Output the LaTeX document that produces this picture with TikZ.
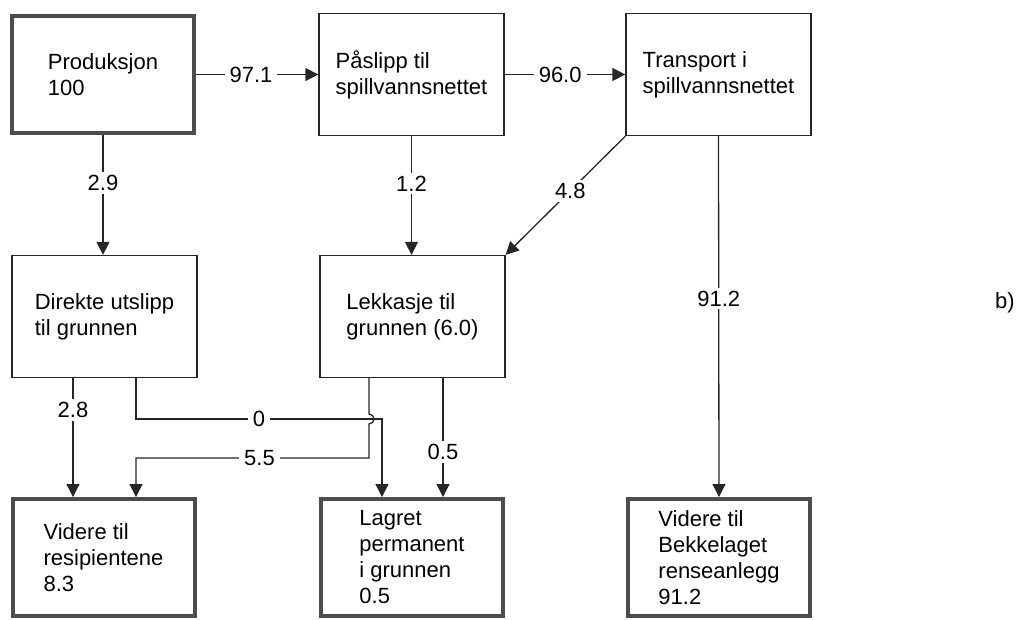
\documentclass[tikz,border=0pt]{standalone}
\usepackage{fontspec}
\setmainfont{Liberation Sans}
\usetikzlibrary{arrows.meta}

\begin{document}
\begin{tikzpicture}[x=1pt,y=-1pt,
    every node/.style={font=\fontsize{22}{26}\selectfont},
    box/.style={draw=black!85, line width=1.3pt, minimum width=185pt, minimum height=122pt, align=left, inner sep=0pt},
    sink/.style={box, draw=black!70, line width=4pt, minimum width=182pt, minimum height=117pt},
    flow/.style={draw=black!85, line width=1.3pt, -{Triangle[length=13pt,width=13pt]}},
    lbl/.style={fill=white, inner xsep=5pt, inner ysep=3pt}]
        \useasboundingbox (0,0) rectangle (1026,619);
        % boxes
        \node[sink] (prod) at (103,74.5) {Produksjon\\100};
        \node[box] (paa) at (411.5,74.5) {Påslipp til\\spillvannsnettet};
        \node[box] (trans) at (718.5,74.5) {Transport i\\spillvannsnettet};
        \node[box] (direkte) at (104.5,316.5) {Direkte utslipp\\til grunnen};
        \node[box] (lekk) at (412.5,316.5) {Lekkasje til\\grunnen (6.0)};
        \node[sink] (resip) at (103.5,557.5) {Videre til\\resipientene\\8.3};
        \node[sink] (lagret) at (412,557.5) {Lagret\\permanent\\i grunnen\\0.5};
        \node[sink] (bekk) at (719,557.5) {Videre til\\Bekkelaget\\renseanlegg\\91.2};
        \node (b) at (1005,303) {b)};
        % upper flows
        \draw[flow] (prod) -- node[lbl,pos=0.45]{97.1} (paa);
        \draw[flow] (paa) -- node[lbl,pos=0.46]{96.0} (trans);
        \draw[flow] (prod.south) -- node[lbl,pos=0.4]{2.9} (prod.south |- direkte.north);
        \draw[flow] (paa.south) -- node[lbl,pos=0.4]{1.2} (paa.south |- lekk.north);
        \draw[flow] (trans.south west) -- node[lbl,pos=0.46]{4.8} (lekk.north east);
        \draw[flow] (trans.south) -- node[lbl,pos=0.45]{91.2} (bekk.north);
        % lower flows
        \coordinate (d28) at ([xshift=-31.5pt]direkte.south);
        \coordinate (d0) at ([xshift=31.5pt]direkte.south);
        \coordinate (l55) at ([xshift=-43.5pt]lekk.south);
        \coordinate (l05) at ([xshift=30.5pt]lekk.south);
        \coordinate (j0) at (382,419);
        \coordinate (j55) at (369,458);
        \coordinate (hop) at (369,419);
        \draw[flow] (d28) -- node[lbl,pos=0.27]{2.8} (d28 |- resip.north);
        \draw[flow] (d0) -- (d0 |- j0) -- node[lbl]{0} (j0) -- (j0 |- lagret.north);
        \draw[flow] (l55) -- ([yshift=5pt]hop) arc[start angle=90,end angle=-90,radius=5pt] -- (j55) -- node[lbl,pos=0.47]{5.5} (j55 -| d0) -- (d0 |- resip.north);
        \draw[flow] (l05) -- node[lbl,pos=0.62]{0.5} (l05 |- lagret.north);
    \end{tikzpicture}
\end{document}
